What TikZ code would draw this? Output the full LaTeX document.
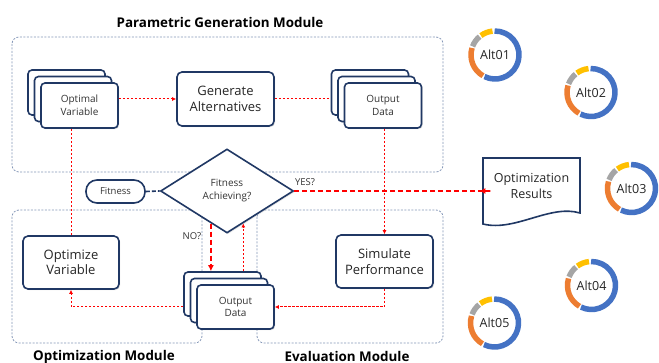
\documentclass[tikz,border=0pt]{standalone}
\usepackage{fontspec}
\setmainfont{Open Sans}
\usetikzlibrary{shapes.geometric,arrows.meta,calc,shadows}
\definecolor{navy}{HTML}{203864}
\definecolor{modline}{HTML}{8497B8}
\definecolor{rd}{HTML}{FF0000}
\definecolor{dblue}{HTML}{4472C4}
\definecolor{dorange}{HTML}{ED7D31}
\definecolor{dgray}{HTML}{A5A5A5}
\definecolor{dyellow}{HTML}{FFC000}
\tikzset{
  module/.style={draw=modline, line width=0.8pt, dash pattern=on 2pt off 1.5pt, rounded corners=7pt},
  modtitle/.style={font=\fontsize{13.4}{15}\selectfont\bfseries, text=black},
  card/.style={draw=navy, line width=1.6pt, rounded corners=4pt, fill=white,
    minimum width=77pt, minimum height=45pt, inner sep=0pt, align=center,
    font=\fontsize{10}{12.5}\selectfont, text=black!80,
    drop shadow={shadow xshift=1.2pt, shadow yshift=-1.2pt, opacity=0.25}},
  procbox/.style={draw=navy, line width=1.6pt, rounded corners=5pt, fill=white,
    minimum width=97pt, minimum height=53pt, inner sep=0pt, align=center,
    font=\fontsize{13}{15.5}\selectfont, text=black!85,
    drop shadow={shadow xshift=1.2pt, shadow yshift=-1.2pt, opacity=0.25}},
  thinred/.style={draw=rd, line width=1pt, dash pattern=on 2.5pt off 1.5pt},
  thickred/.style={draw=rd, line width=2pt, dash pattern=on 5pt off 3pt},
  tip/.style={-{Latex[length=4pt,width=4pt]}},
  bigtip/.style={-{Latex[length=6pt,width=6pt]}},
  altlabel/.style={font=\fontsize{12.5}{14}\selectfont, text=black!85, inner sep=0pt},
  seg/.style={line width=5.5pt},
}
\newcommand{\donut}[1]{%
  \draw[seg, dblue] (#1) ++(244:24pt) arc[start angle=244, end angle=451, radius=24pt];
  \draw[seg, dorange] (#1) ++(163:24pt) arc[start angle=163, end angle=240, radius=24pt];
  \draw[seg, dgray] (#1) ++(130:24pt) arc[start angle=130, end angle=159, radius=24pt];
  \draw[seg, dyellow] (#1) ++(96:24pt) arc[start angle=96, end angle=126, radius=24pt];
}
\begin{document}
\begin{tikzpicture}[x=1pt, y=-1pt]
\useasboundingbox[fill=white] (0,0) rectangle (659,363);

% module frames
\draw[module] (12,37) rectangle (443,172);
\draw[module] (12,210) rectangle (202,343);
\draw[module] (257,210) rectangle (443,343);
\node[modtitle] (t1) at (220,22) {Parametric Generation Module};
\node[modtitle] (t2) at (104,357) {Optimization Module};
\node[modtitle] (t3) at (347,356) {Evaluation Module};

% optimal variable stack
\node[card] (ovc) at (66.5,92.5) {};
\node[card] (ovb) at (73,99) {};
\node[card] (ov) at (79.5,105.5) {Optimal\\Variable};

\node[procbox, minimum height=54pt] (gen) at (225.5,99) {Generate\\Alternatives};

% output data stack (top)
\node[card] (odc) at (370,92.5) {};
\node[card] (odb) at (376.5,99) {};
\node[card] (od) at (383,105.5) {Output\\Data};

\node[procbox, minimum width=96pt] (optv) at (71,262.5) {Optimize\\Variable};
\node[procbox] (sim) at (384.5,261.5) {Simulate\\Performance};

% output data stack (bottom)
\node[card, minimum height=44pt] (pdc) at (222.5,294) {};
\node[card, minimum height=44pt] (pdb) at (229,300.5) {};
\node[card, minimum height=44pt] (pd) at (235.5,307) {Output\\Data};

% decision
\node[diamond, draw=navy, line width=1.6pt, fill=white, minimum width=133pt, minimum height=84pt,
  inner sep=0pt, align=center, font=\fontsize{10}{13}\selectfont, text=black!80,
  drop shadow={shadow xshift=1.2pt, shadow yshift=-1.2pt, opacity=0.2}] (dia) at (227,191) {Fitness\\Achieving?};
\node[draw=navy, line width=1.6pt, rounded corners=11pt, fill=white, minimum width=59pt, minimum height=23pt,
  inner sep=0pt, font=\fontsize{9.5}{11}\selectfont, text=black!80] (fit) at (115.5,191.5) {Fitness};
\draw[navy, line width=1.6pt, dash pattern=on 4pt off 2pt] (fit.east) -- (dia.west);

% optimization results document
\draw[navy, line width=1.6pt, fill=white] (483,158) -- (580,158) -- (580,213)
  .. controls (550,204) and (515,232) .. (483,224) -- cycle;
\node[font=\fontsize{12.5}{15.5}\selectfont, text=black!85, align=center] (res) at (531.5,186) {Optimization\\Results};

% connectors
\draw[thinred, tip] (ov.east |- gen.west) -- (gen.west);
\draw[thinred] (gen.east) -- (gen.east -| odc.west);
\draw[thinred] (optv.north) -- (optv.north |- ov.south);
\draw[thinred, tip] (sim.north |- od.south) -- (sim.north);
\draw[thinred, tip] (sim.south) |- (pd.east);
\draw[thinred, tip] (pdc.west |- pd.east) -| (optv.south);
\coordinate (noa) at ($(dia.west)!0.761!(dia.south)$);
\coordinate (upa) at ($(dia.south)!0.242!(dia.east)$);
\draw[thickred, bigtip] (noa) -- (noa |- pdc.north);
\draw[thinred, tip] (upa |- pdc.north) -- (upa);
\draw[thickred, bigtip, shorten >=13pt] (dia.east) -- (dia.east -| res.west) -- ++(-24,0) coordinate (yesend);
\node[font=\fontsize{9.5}{11}\selectfont, text=black!80] (yes) at (305,182) {YES?};
\node[font=\fontsize{9.5}{11}\selectfont, text=black!80] (no) at (192,236) {NO?};

% donuts
\node[altlabel] (a1) at (495,55) {Alt01};
\node[altlabel] (a2) at (591,92.5) {Alt02};
\node[altlabel] (a3) at (631.5,188.5) {Alt03};
\node[altlabel] (a4) at (591.5,285.5) {Alt04};
\node[altlabel] (a5) at (494.5,323) {Alt05};
\donut{a1}
\donut{a2}
\donut{a3}
\donut{a4}
\donut{a5}
\end{tikzpicture}
\end{document}
